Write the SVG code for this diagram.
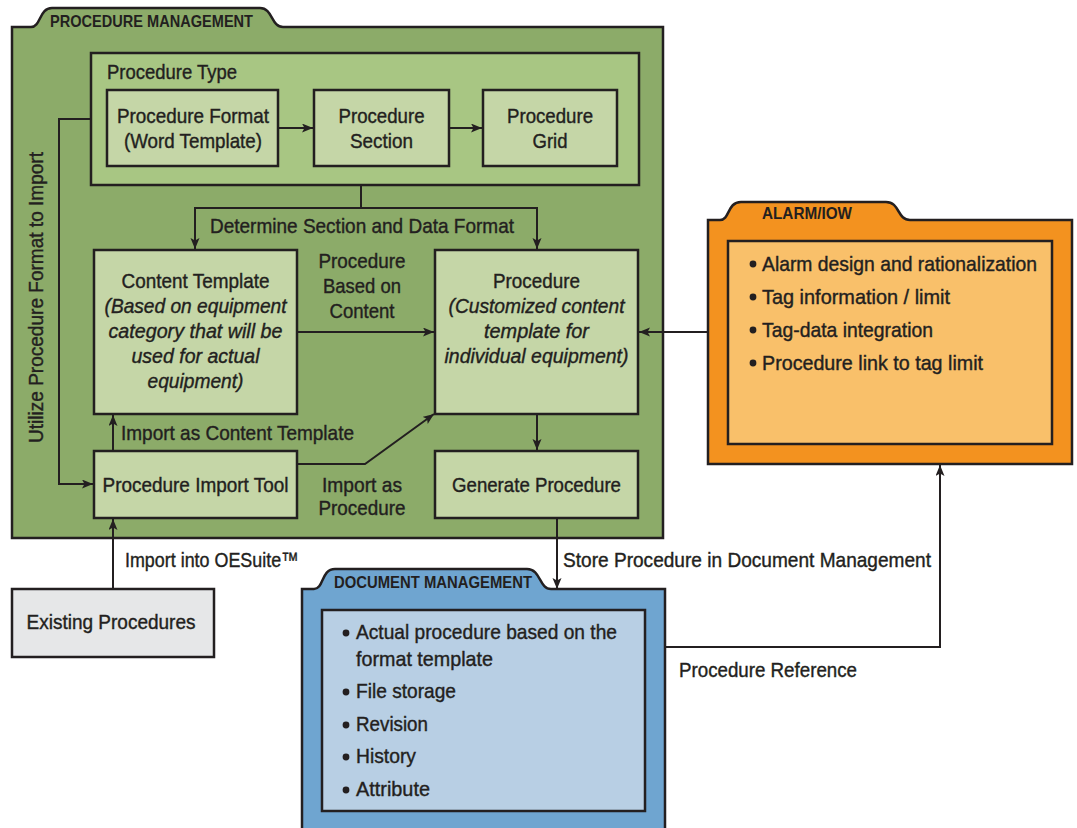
<svg xmlns="http://www.w3.org/2000/svg" width="1077" height="828" viewBox="0 0 1077 828">
<style>
.t{font-family:"Liberation Sans",Arial,sans-serif;font-size:21px;fill:#231f20;stroke:#231f20;stroke-width:0.4px}
.i{font-style:italic}
.m{text-anchor:middle}
.h{font-family:"Liberation Sans",Arial,sans-serif;font-size:16.5px;font-weight:bold;fill:#231f20}
.bx{stroke:#231f20;stroke-width:2.5}
.c{fill:none;stroke:#231f20;stroke-width:2;marker-end:url(#ah)}
.pm{fill:#8cab69}.pt{fill:#a8c683}.gb{fill:#c5d6a7}
.ao{fill:#f3921f}.ai{fill:#f9c06a}
.do{fill:#6fa5d0}.di{fill:#b8cfe4}
.ex{fill:#e6e7e8}
</style>
<defs>
<marker id="ah" markerUnits="userSpaceOnUse" markerWidth="12" markerHeight="10" refX="11" refY="4.5" orient="auto">
<path d="M0,0 L11,4.5 L0,9 L2.5,4.5 z" fill="#231f20"/>
</marker>
</defs>
<rect width="1077" height="828" fill="#fff"/>

<g id="procedure-management">
<path class="bx pm" d="M12,27 H31 C41,27 39,8 52,8 H260 C273,8 271,27 283,27 H663 V538 H12 Z"/>
<text class="h" x="50" y="27" textLength="203" lengthAdjust="spacingAndGlyphs">PROCEDURE MANAGEMENT</text>
<text class="t" transform="translate(43,443) rotate(-90)" textLength="291" lengthAdjust="spacingAndGlyphs">Utilize Procedure Format to Import</text>
</g>

<g id="procedure-type">
<rect class="bx pt" x="91" y="53" width="548" height="132"/>
<text class="t" x="107" y="79" textLength="130" lengthAdjust="spacingAndGlyphs">Procedure Type</text>
</g>

<g id="procedure-format">
<rect class="bx gb" x="107" y="90" width="171" height="76"/>
<text class="t m" x="193" y="123" textLength="152" lengthAdjust="spacingAndGlyphs">Procedure Format</text>
<text class="t m" x="193" y="148" textLength="138" lengthAdjust="spacingAndGlyphs">(Word Template)</text>
</g>

<g id="procedure-section">
<rect class="bx gb" x="314" y="90" width="135" height="76"/>
<text class="t m" x="381.5" y="123" textLength="86" lengthAdjust="spacingAndGlyphs">Procedure</text>
<text class="t m" x="381.5" y="148" textLength="63" lengthAdjust="spacingAndGlyphs">Section</text>
</g>

<g id="procedure-grid">
<rect class="bx gb" x="483" y="90" width="134" height="76"/>
<text class="t m" x="550" y="123" textLength="86" lengthAdjust="spacingAndGlyphs">Procedure</text>
<text class="t m" x="550" y="148" textLength="35" lengthAdjust="spacingAndGlyphs">Grid</text>
</g>

<g id="content-template">
<rect class="bx gb" x="94" y="250" width="203" height="164"/>
<text class="t m" x="195.5" y="288" textLength="148" lengthAdjust="spacingAndGlyphs">Content Template</text>
<text class="t m i" x="195.5" y="313" textLength="182" lengthAdjust="spacingAndGlyphs">(Based on equipment</text>
<text class="t m i" x="195.5" y="338" textLength="174" lengthAdjust="spacingAndGlyphs">category that will be</text>
<text class="t m i" x="195.5" y="363" textLength="128" lengthAdjust="spacingAndGlyphs">used for actual</text>
<text class="t m i" x="195.5" y="388" textLength="96" lengthAdjust="spacingAndGlyphs">equipment)</text>
</g>

<g id="procedure">
<rect class="bx gb" x="435" y="250" width="203" height="164"/>
<text class="t m" x="536.5" y="288" textLength="87" lengthAdjust="spacingAndGlyphs">Procedure</text>
<text class="t m i" x="536.5" y="313" textLength="176" lengthAdjust="spacingAndGlyphs">(Customized content</text>
<text class="t m i" x="536.5" y="338" textLength="105" lengthAdjust="spacingAndGlyphs">template for</text>
<text class="t m i" x="536.5" y="363" textLength="184" lengthAdjust="spacingAndGlyphs">individual equipment)</text>
</g>

<g id="procedure-import-tool">
<rect class="bx gb" x="94" y="451" width="203" height="67"/>
<text class="t m" x="195.5" y="492" textLength="186" lengthAdjust="spacingAndGlyphs">Procedure Import Tool</text>
</g>

<g id="generate-procedure">
<rect class="bx gb" x="435" y="451" width="203" height="67"/>
<text class="t m" x="536.5" y="492" textLength="169" lengthAdjust="spacingAndGlyphs">Generate Procedure</text>
</g>

<g id="alarm-iow">
<path class="bx ao" d="M708,220 H720 C730,220 727,202 741,202 H886 C900,202 897,220 910,220 H1072 V464 H708 Z"/>
<text class="h" x="762" y="219" textLength="90" lengthAdjust="spacingAndGlyphs">ALARM/IOW</text>
<rect class="bx ai" x="728" y="241" width="324" height="203"/>
<circle cx="753" cy="264" r="3.4" fill="#231f20"/>
<text class="t" x="762" y="271" textLength="275" lengthAdjust="spacingAndGlyphs">Alarm design and rationalization</text>
<circle cx="753" cy="297" r="3.4" fill="#231f20"/>
<text class="t" x="762" y="304" textLength="188" lengthAdjust="spacingAndGlyphs">Tag information / limit</text>
<circle cx="753" cy="330" r="3.4" fill="#231f20"/>
<text class="t" x="762" y="337" textLength="171" lengthAdjust="spacingAndGlyphs">Tag-data integration</text>
<circle cx="753" cy="363" r="3.4" fill="#231f20"/>
<text class="t" x="762" y="370" textLength="221" lengthAdjust="spacingAndGlyphs">Procedure link to tag limit</text>
</g>

<g id="document-management">
<path class="bx do" d="M302,589 H314 C324,589 321,569 335,569 H527 C541,569 539,589 551,589 H665 V840 H302 Z"/>
<text class="h" x="334" y="588" textLength="198" lengthAdjust="spacingAndGlyphs">DOCUMENT MANAGEMENT</text>
<rect class="bx di" x="322" y="610" width="323" height="201"/>
<circle cx="346" cy="633" r="3.4" fill="#231f20"/>
<text class="t" x="356" y="639" textLength="261" lengthAdjust="spacingAndGlyphs">Actual procedure based on the</text>
<text class="t" x="356" y="666" textLength="137" lengthAdjust="spacingAndGlyphs">format template</text>
<circle cx="346" cy="692" r="3.4" fill="#231f20"/>
<text class="t" x="356" y="698" textLength="100" lengthAdjust="spacingAndGlyphs">File storage</text>
<circle cx="346" cy="725" r="3.4" fill="#231f20"/>
<text class="t" x="356" y="731" textLength="72" lengthAdjust="spacingAndGlyphs">Revision</text>
<circle cx="346" cy="757" r="3.4" fill="#231f20"/>
<text class="t" x="356" y="763" textLength="60" lengthAdjust="spacingAndGlyphs">History</text>
<circle cx="346" cy="790" r="3.4" fill="#231f20"/>
<text class="t" x="356" y="796" textLength="74" lengthAdjust="spacingAndGlyphs">Attribute</text>
</g>

<g id="existing-procedures">
<rect class="bx ex" x="12" y="589" width="202" height="68"/>
<text class="t m" x="111" y="629" textLength="169" lengthAdjust="spacingAndGlyphs">Existing Procedures</text>
</g>

<g id="connectors">
<path class="c" d="M278,128 H313"/>
<path class="c" d="M449,128 H482"/>
<path class="c" d="M361,185 V208 H195 V249"/>
<path class="c" d="M361,208 H537 V249"/>
<path class="c" d="M91,119 H59 V484 H93"/>
<path class="c" d="M297,332 H434"/>
<path class="c" d="M708,332 H639"/>
<path class="c" d="M113,451 V415"/>
<path class="c" d="M297,464 H365 L434,414"/>
<path class="c" d="M537,414 V450"/>
<path class="c" d="M113,589 V519"/>
<path class="c" d="M557,518 V589"/>
<path class="c" d="M665,647 H940 V465"/>
<text class="t" x="210" y="233" textLength="304" lengthAdjust="spacingAndGlyphs">Determine Section and Data Format</text>
<text class="t m" x="362" y="268" textLength="87" lengthAdjust="spacingAndGlyphs">Procedure</text>
<text class="t m" x="362" y="293" textLength="78" lengthAdjust="spacingAndGlyphs">Based on</text>
<text class="t m" x="362" y="318" textLength="65" lengthAdjust="spacingAndGlyphs">Content</text>
<text class="t" x="121" y="440" textLength="233" lengthAdjust="spacingAndGlyphs">Import as Content Template</text>
<text class="t m" x="362" y="492" textLength="80" lengthAdjust="spacingAndGlyphs">Import as</text>
<text class="t m" x="362" y="515" textLength="87" lengthAdjust="spacingAndGlyphs">Procedure</text>
<text class="t" x="125" y="567" textLength="174" lengthAdjust="spacingAndGlyphs">Import into OESuite™</text>
<text class="t" x="563" y="567" textLength="368" lengthAdjust="spacingAndGlyphs">Store Procedure in Document Management</text>
<text class="t" x="679" y="677" textLength="178" lengthAdjust="spacingAndGlyphs">Procedure Reference</text>
</g>
</svg>
